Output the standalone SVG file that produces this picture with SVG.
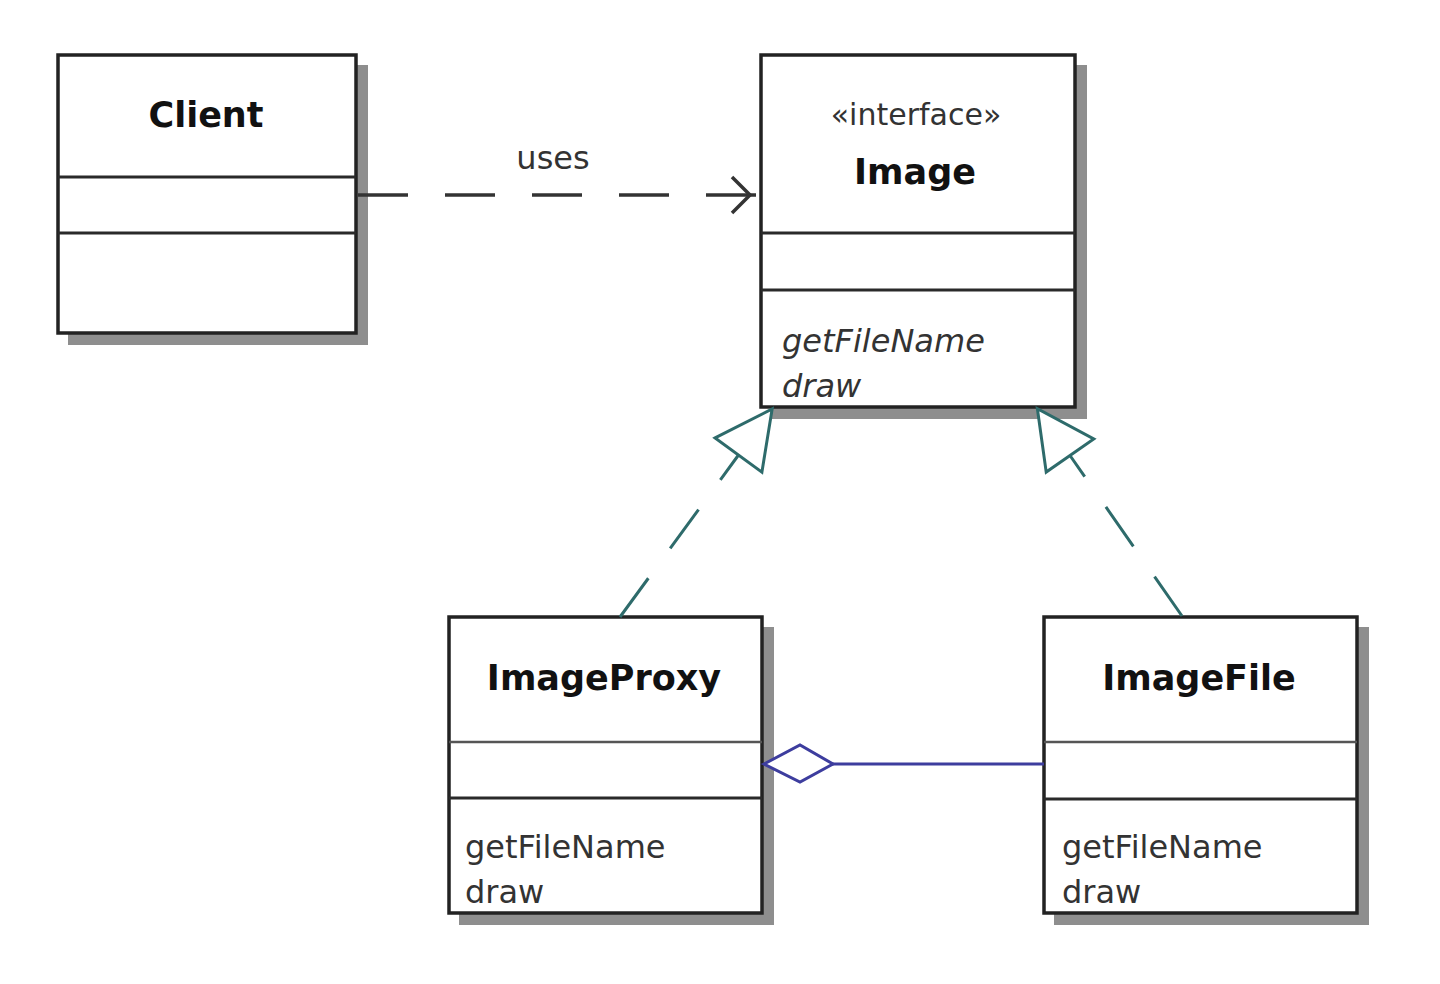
<svg xmlns="http://www.w3.org/2000/svg" width="1440" height="984" viewBox="0 0 1440 984">
<defs>
<style>
.shadow{fill:#8e8e8e;stroke:none}
.box{fill:#ffffff;stroke:#222222;stroke-width:3.5}
.div{stroke:#2a2a2a;stroke-width:3}
.div1{stroke:#555555;stroke-width:2.5}
.name{font-family:"DejaVu Sans",Verdana,sans-serif;font-weight:bold;font-size:35px;fill:#111111;text-anchor:middle}
.stereo{font-family:"DejaVu Sans",Verdana,sans-serif;font-size:30px;fill:#333333;text-anchor:middle}
.op{font-family:"DejaVu Sans",Verdana,sans-serif;font-size:32px;fill:#333333}
.abs{font-style:italic}
.lbl{font-family:"DejaVu Sans",Verdana,sans-serif;font-size:32px;fill:#333333;text-anchor:middle}
.dep{fill:none;stroke:#333333;stroke-width:3.5;stroke-dasharray:50 37}
.real{fill:none;stroke:#2e6b6b;stroke-width:3;stroke-dasharray:48 37}
.agg{fill:none;stroke:#3d3d9e;stroke-width:3}
</style>
<marker id="openArrow" markerUnits="userSpaceOnUse" viewBox="-2 -2 42 40" markerWidth="42" markerHeight="40" refX="38" refY="18" orient="auto" overflow="visible">
<path d="M10,0 L28,18 L10,36" fill="none" stroke="#333333" stroke-width="3.5"/>
</marker>
<marker id="realize" markerUnits="userSpaceOnUse" viewBox="0 -29 57 58" markerWidth="57" markerHeight="58" refX="0" refY="0" orient="auto" overflow="visible">
<path d="M0,-29 L57,0 L0,29 Z" fill="#ffffff" stroke="#2e6b6b" stroke-width="3"/>
</marker>
<marker id="diamond" markerUnits="userSpaceOnUse" viewBox="0 -19 70 38" markerWidth="70" markerHeight="38" refX="0" refY="0" orient="auto" overflow="visible">
<path d="M0,0 L36,-19 L69,0 L36,18 Z" fill="#ffffff" stroke="#3d3d9e" stroke-width="3"/>
</marker>
</defs>
<rect width="1440" height="984" fill="#ffffff"/>

<g id="Client">
<rect class="shadow" x="68" y="65" width="300" height="280"/>
<rect class="box" x="58" y="55" width="298" height="278"/>
<line class="div" x1="58" y1="177" x2="356" y2="177"/>
<line class="div" x1="58" y1="233" x2="356" y2="233"/>
<text class="name" x="206" y="127">Client</text>
</g>

<g id="Image">
<rect class="shadow" x="771" y="65" width="316" height="354"/>
<rect class="box" x="761" y="55" width="314" height="352"/>
<line class="div" x1="761" y1="233" x2="1075" y2="233"/>
<line class="div" x1="761" y1="290" x2="1075" y2="290"/>
<text class="stereo" x="916" y="125">«interface»</text>
<text class="name" x="915" y="184">Image</text>
<text class="op abs" x="782" y="352">getFileName</text>
<text class="op abs" x="782" y="397">draw</text>
</g>

<g id="ImageProxy">
<rect class="shadow" x="459" y="627" width="315" height="298"/>
<rect class="box" x="449" y="617" width="313" height="296"/>
<line class="div1" x1="449" y1="742" x2="762" y2="742"/>
<line class="div" x1="449" y1="798" x2="762" y2="798"/>
<text class="name" x="604" y="690">ImageProxy</text>
<text class="op" x="465" y="858">getFileName</text>
<text class="op" x="465" y="903">draw</text>
</g>

<g id="ImageFile">
<rect class="shadow" x="1054" y="627" width="315" height="298"/>
<rect class="box" x="1044" y="617" width="313" height="296"/>
<line class="div1" x1="1044" y1="742" x2="1357" y2="742"/>
<line class="div" x1="1044" y1="799" x2="1357" y2="799"/>
<text class="name" x="1199" y="690">ImageFile</text>
<text class="op" x="1062" y="858">getFileName</text>
<text class="op" x="1062" y="903">draw</text>
</g>

<g id="connectors">
<path class="dep" d="M358,195 L760,195" marker-end="url(#openArrow)"/>
<text class="lbl" x="553" y="169">uses</text>
<path class="real" d="M620,617 L738.5,455" marker-end="url(#realize)"/>
<path class="real" d="M1182,616 L1070,455.5" marker-end="url(#realize)"/>
<path class="agg" d="M764,764 L1044,764" marker-start="url(#diamond)"/>
</g>
</svg>
